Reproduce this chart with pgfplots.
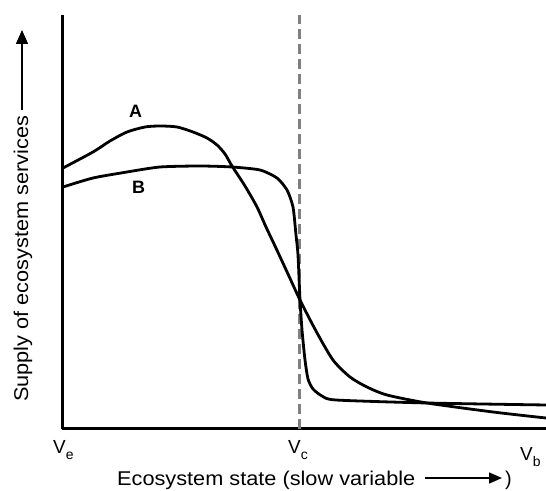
\documentclass[border=0pt]{standalone}
\usepackage{pgfplots}
\pgfplotsset{compat=1.18}
\usepackage{fontspec}
\setmainfont{Liberation Sans}
\usetikzlibrary{arrows.meta}
\begin{document}
\begin{tikzpicture}
\useasboundingbox (0,0) rectangle (546bp,491bp);
\begin{axis}[
  at={(62bp,62bp)}, anchor=south west,
  scale only axis, width=484bp, height=414bp,
  xmin=62, xmax=546, ymin=0, ymax=414,
  axis x line=bottom, axis y line=left,
  axis line style={-, line width=3bp},
  xtick=\empty, ytick=\empty,
  clip=false,
]
\addplot[color=black!50, line width=3bp, dash pattern=on 10bp off 5bp] coordinates {(299,0) (299,414)};
\addplot[black, line width=2.8bp, smooth, tension=0.45] coordinates {
(63,261) (93,277) (110,288) (127,297) (145,302) (160,303) (177,302)
(193,297) (207,291) (217,284) (225,275) (232,263) (245,243) (257,222) (266,202)
(275,183) (288,155) (300,129) (316,98) (333,69) (350,52) (367,42) (387,34)
(427,26) (493,17) (546,11)};
\addplot[black, line width=2.8bp, smooth, tension=0.4] coordinates {
(63,242) (93,251) (127,257) (160,262) (200,263) (232,262) (260,259) (277,251)
(287,239) (293,222) (296,194) (298,174) (300,129) (302,99) (305,69) (308,50)
(313,40) (322,33) (336,29) (427,26) (546,24)};
\end{axis}
\node[font=\bfseries\fontsize{18}{18}\selectfont, anchor=base west, inner sep=0] at (129bp,373bp) {A};
\node[font=\bfseries\fontsize{18}{18}\selectfont, anchor=base west, inner sep=0] at (132bp,297bp) {B};
\node[font=\fontsize{19}{19}\selectfont, anchor=base west, inner sep=0] at (53bp,38bp) {V\raisebox{-0.33em}{\fontsize{14}{14}\selectfont e}};
\node[font=\fontsize{19}{19}\selectfont, anchor=base west, inner sep=0] at (288bp,38bp) {V\raisebox{-0.33em}{\fontsize{14}{14}\selectfont c}};
\node[font=\fontsize{19}{19}\selectfont, anchor=base west, inner sep=0] at (520bp,31bp) {V\raisebox{-0.33em}{\fontsize{14}{14}\selectfont b}};
\node[font=\fontsize{20}{20}\selectfont, anchor=base west, inner sep=0] at (117bp,6bp) {\scalebox{1.09}[1]{Ecosystem state (slow variable}};
\draw[line width=1.5bp, -{Triangle[length=13bp,width=11bp]}] (425bp,13bp) -- (502bp,13bp);
\node[font=\fontsize{20}{20}\selectfont, anchor=base west, inner sep=0] at (505bp,6bp) {)};
\node[font=\fontsize{20}{20}\selectfont, anchor=base west, inner sep=0, rotate=90] at (28bp,89bp) {\scalebox{1.09}[1]{Supply of ecosystem services}};
\draw[line width=1.5bp, -{Triangle[length=14bp,width=12bp]}] (22bp,381bp) -- (22bp,461bp);
\end{tikzpicture}
\end{document}
